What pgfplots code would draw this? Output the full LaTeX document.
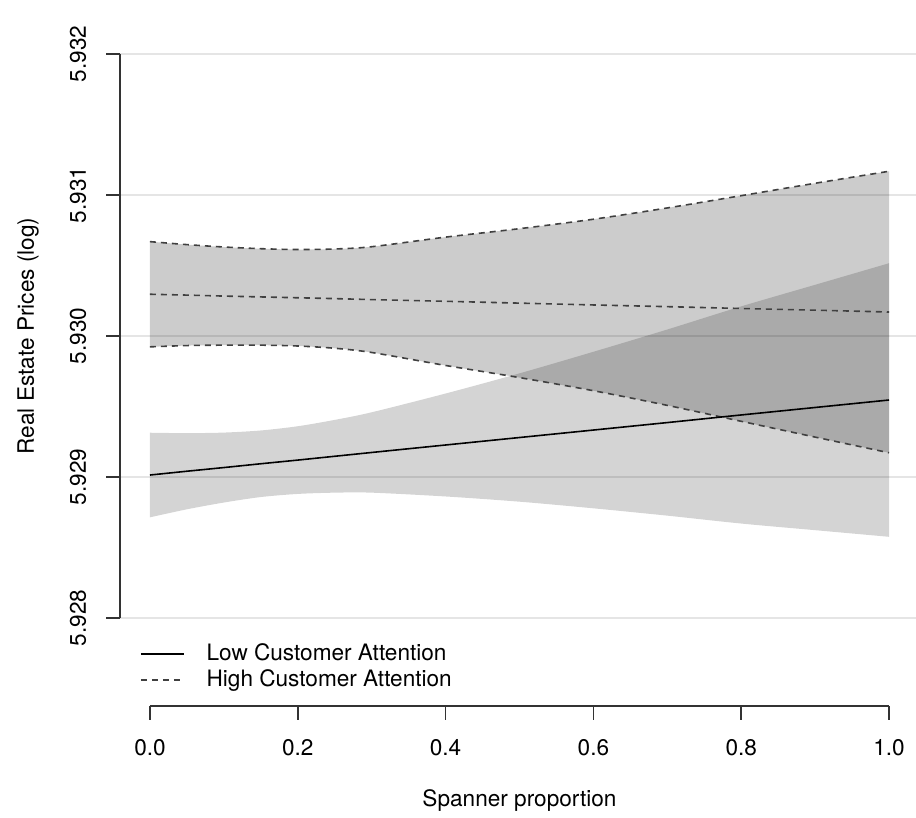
\documentclass[border=0pt]{standalone}
\usepackage{fontspec}
\setmainfont{TeX Gyre Heros}
\usepackage{pgfplots}
\usepackage{pgfplotstable}
\usepgfplotslibrary{fillbetween}
\pgfplotsset{compat=1.18}

\pgfplotstableread{
x    lowmid   lowup    lowlo
0    5.929014 5.929314 5.928714
0.05 5.929041 5.929311 5.928771
0.1  5.929067 5.929315 5.928819
0.15 5.929094 5.929330 5.928858
0.2  5.929120 5.929360 5.928880
0.25 5.929147 5.929405 5.928889
0.3  5.929174 5.929459 5.928889
0.4  5.929227 5.929592 5.928862
0.5  5.929280 5.929735 5.928825
0.6  5.929333 5.929888 5.928778
0.7  5.929386 5.930046 5.928726
0.8  5.929440 5.930210 5.928670
0.9  5.929493 5.930363 5.928623
1.0  5.929546 5.930516 5.928576
}\lowtab

\pgfplotstableread{
x    highmid  highup   highlo
0    5.930296 5.930669 5.929923
0.05 5.930290 5.930648 5.929932
0.1  5.930283 5.930631 5.929935
0.15 5.930277 5.930619 5.929935
0.2  5.930271 5.930613 5.929929
0.25 5.930265 5.930617 5.929913
0.3  5.930258 5.930633 5.929883
0.4  5.930246 5.930701 5.929791
0.5  5.930233 5.930761 5.929705
0.6  5.930220 5.930828 5.929612
0.7  5.930208 5.930908 5.929508
0.8  5.930195 5.930995 5.929395
0.9  5.930183 5.931083 5.929283
1.0  5.930170 5.931168 5.929172
}\hightab

\begin{document}
\begin{tikzpicture}[font=\fontsize{11.3}{13}\selectfont]
\begin{axis}[
  at={(0,0)}, anchor=south west,
  scale only axis, width=399.1pt, height=304.6pt,
  xmin=-0.04, xmax=1.04, ymin=5.92784, ymax=5.93216,
  clip=false,
  axis x line*=bottom, axis y line*=left,
  axis x line shift=32.7pt,
  x axis line style={draw=none}, y axis line style={draw=none},
  tick align=outside, major tick length=7pt,
  tick style={black!80, line width=0.9pt},
  xtick={0,0.2,0.4,0.6,0.8,1}, xticklabels={0.0,0.2,0.4,0.6,0.8,1.0},
  ytick={5.928,5.929,5.930,5.931,5.932},
  yticklabels={5.928,5.929,5.930,5.931,5.932},
  ymajorgrids, major grid style={black!10, line width=1pt},
  yticklabel style={anchor=center, xshift=-14.2pt, rotate=90},
  xticklabel style={anchor=center, yshift=-14pt},
  xlabel={Spanner proportion},
  ylabel={Real Estate Prices (log)},
  every axis x label/.style={at={(axis description cs:0.5,-0.2633)}, anchor=center},
  every axis y label/.style={at={(axis description cs:-0.1157,0.5)}, rotate=90, anchor=center},
  legend cell align=left,
  legend image code/.code={\draw[#1] (0pt,0pt) -- (21.5pt,0pt);},
  legend style={draw=none, fill=none, at={(axis description cs:0.02456,-0.0036)},
    anchor=north west, inner sep=0pt, outer sep=0pt, row sep=2pt, column sep=11pt,
    nodes={inner sep=0pt, text height=8.7pt, text depth=2.3pt}},
]
\addplot[name path=lu, draw=none, smooth, forget plot] table[x=x,y=lowup]{\lowtab};
\addplot[name path=ll, draw=none, smooth, forget plot] table[x=x,y=lowlo]{\lowtab};
\addplot[fill=black, fill opacity=0.17, draw=none, forget plot] fill between[of=lu and ll];
\addplot[name path=hu, black!75, line width=0.8pt, dash pattern=on 3pt off 2.5pt, smooth, forget plot] table[x=x,y=highup]{\hightab};
\addplot[name path=hl, black!75, line width=0.8pt, dash pattern=on 3pt off 2.5pt, smooth, forget plot] table[x=x,y=highlo]{\hightab};
\addplot[fill=black, fill opacity=0.2, draw=none, forget plot] fill between[of=hu and hl];
\addplot[black, line width=0.8pt] table[x=x,y=lowmid]{\lowtab};
\addlegendentry{Low Customer Attention}
\addplot[black!75, line width=0.8pt, dash pattern=on 3pt off 2.5pt] table[x=x,y=highmid]{\hightab};
\addlegendentry{High Customer Attention}
\draw[black!80, line width=0.9pt] (axis cs:-0.04,5.928) -- (axis cs:-0.04,5.932);
\draw[black!80, line width=0.9pt] ([yshift=-32.7pt]axis cs:0,5.92784) -- ([yshift=-32.7pt]axis cs:1,5.92784);
\end{axis}
\pgfresetboundingbox
\useasboundingbox (-60.2pt,-88.7pt) rectangle (397.8pt,320.3pt);
\end{tikzpicture}
\end{document}
